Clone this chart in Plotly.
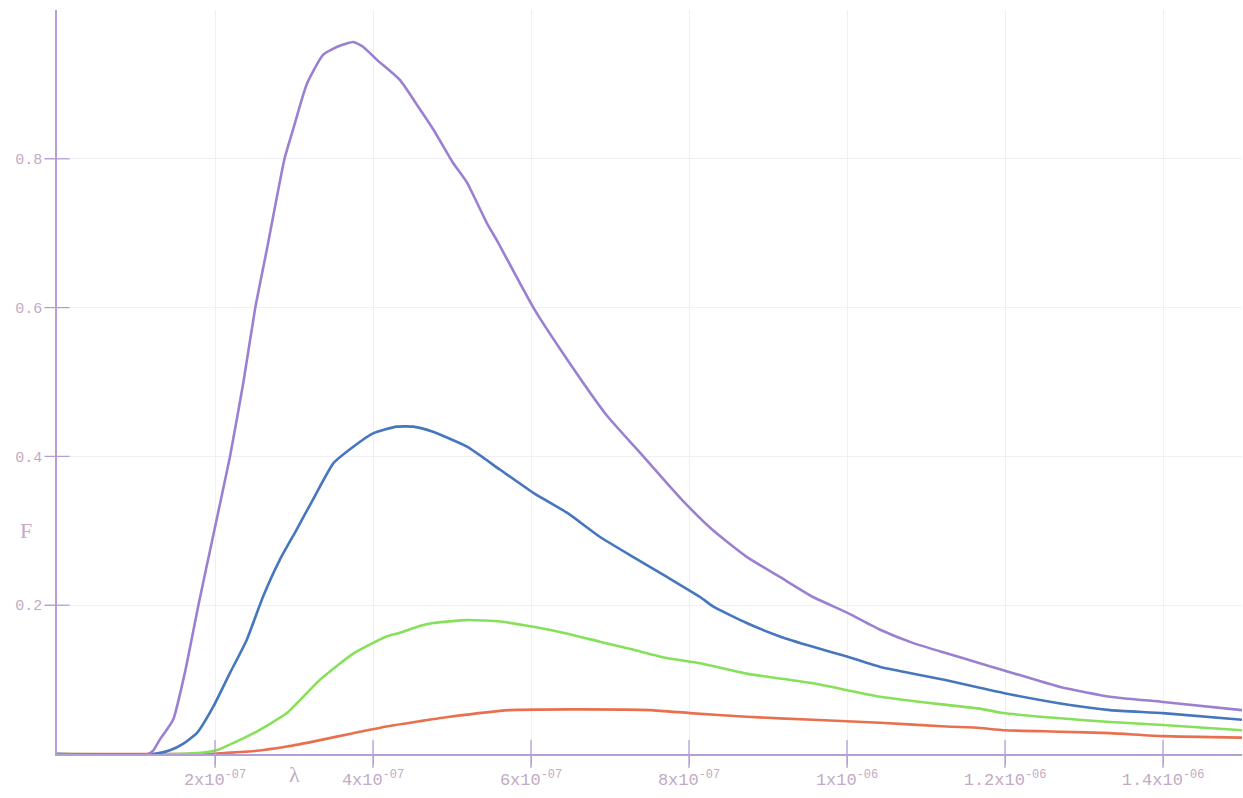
import plotly.graph_objects as go

# Wavelength samples (m) and normalised flux F for each curve
lam_purple = [0, 1.15e-7, 1.22e-7, 1.30e-7, 1.47e-7, 1.62e-7, 1.79e-7, 1.97e-7, 2.19e-7, 2.36e-7,
              2.51e-7, 2.66e-7, 2.88e-7, 2.99e-7, 3.16e-7, 3.37e-7, 3.58e-7, 3.75e-7, 3.87e-7,
              4.05e-7, 4.34e-7, 4.56e-7, 4.76e-7, 5.01e-7, 5.19e-7, 5.44e-7, 5.57e-7, 6.03e-7,
              6.46e-7, 6.96e-7, 7.38e-7, 7.89e-7, 8.30e-7, 8.73e-7, 9.15e-7, 9.57e-7, 1.00e-6,
              1.042e-6, 1.084e-6, 1.127e-6, 1.168e-6, 1.197e-6, 1.270e-6, 1.333e-6, 1.400e-6, 1.500e-6]
f_purple = [0, 0, 0.005, 0.019, 0.046, 0.11, 0.20, 0.29, 0.40, 0.50,
            0.60, 0.68, 0.80, 0.84, 0.90, 0.94, 0.952, 0.957, 0.951,
            0.933, 0.906, 0.872, 0.84, 0.795, 0.768, 0.714, 0.69, 0.60,
            0.53, 0.455, 0.405, 0.344, 0.301, 0.265, 0.238, 0.211, 0.19,
            0.167, 0.149, 0.135, 0.122, 0.113, 0.09, 0.077, 0.07, 0.059]

lam_blue = [0, 1.22e-7, 1.43e-7, 1.60e-7, 1.77e-7, 1.98e-7, 2.19e-7, 2.40e-7, 2.61e-7, 2.82e-7,
            3.03e-7, 3.24e-7, 3.50e-7, 3.75e-7, 4.00e-7, 4.30e-7, 4.51e-7, 4.76e-7, 5.19e-7,
            5.61e-7, 6.03e-7, 6.46e-7, 6.87e-7, 7.29e-7, 7.72e-7, 8.14e-7, 8.31e-7, 8.73e-7,
            9.15e-7, 9.57e-7, 1.00e-6, 1.042e-6, 1.084e-6, 1.126e-6, 1.168e-6, 1.198e-6,
            1.270e-6, 1.333e-6, 1.400e-6, 1.500e-6]
f_blue = [0, 0, 0.005, 0.014, 0.028, 0.064, 0.109, 0.153, 0.212, 0.261,
          0.301, 0.342, 0.391, 0.413, 0.431, 0.44, 0.44, 0.433, 0.413,
          0.382, 0.351, 0.324, 0.292, 0.265, 0.238, 0.211, 0.198, 0.176,
          0.158, 0.144, 0.131, 0.117, 0.108, 0.099, 0.089, 0.082,
          0.068, 0.059, 0.055, 0.046]

lam_green = [0, 1.50e-7, 1.85e-7, 2.02e-7, 2.49e-7, 2.91e-7, 3.33e-7, 3.75e-7, 4.17e-7, 4.34e-7,
             4.59e-7, 4.76e-7, 5.19e-7, 5.61e-7, 6.03e-7, 6.45e-7, 6.87e-7, 7.30e-7, 7.72e-7,
             8.14e-7, 8.73e-7, 9.57e-7, 1.042e-6, 1.126e-6, 1.168e-6, 1.198e-6, 1.270e-6,
             1.333e-6, 1.400e-6, 1.500e-6]
f_green = [0, 0, 0.002, 0.005, 0.028, 0.055, 0.10, 0.135, 0.158, 0.163,
           0.172, 0.176, 0.18, 0.178, 0.171, 0.162, 0.151, 0.14, 0.129,
           0.122, 0.108, 0.095, 0.077, 0.066, 0.061, 0.055, 0.048,
           0.043, 0.039, 0.032]

lam_red = [0, 1.90e-7, 2.06e-7, 2.50e-7, 2.91e-7, 3.30e-7, 3.75e-7, 4.17e-7, 4.59e-7, 4.97e-7,
           5.73e-7, 6.50e-7, 7.51e-7, 8.01e-7, 8.73e-7, 9.57e-7, 1.042e-6, 1.126e-6, 1.168e-6,
           1.198e-6, 1.270e-6, 1.333e-6, 1.400e-6, 1.500e-6]
f_red = [0, 0, 0.001, 0.004, 0.01, 0.018, 0.028, 0.037, 0.044, 0.05,
         0.059, 0.06, 0.059, 0.055, 0.05, 0.046, 0.042, 0.037, 0.035,
         0.032, 0.030, 0.028, 0.024, 0.022]

x_ticks = [2e-7, 4e-7, 6e-7, 8e-7, 1e-6, 1.2e-6, 1.4e-6]
x_tick_text = ["2x10<sup>-07</sup>", "4x10<sup>-07</sup>", "6x10<sup>-07</sup>", "8x10<sup>-07</sup>",
               "1x10<sup>-06</sup>", "1.2x10<sup>-06</sup>", "1.4x10<sup>-06</sup>"]
y_ticks = [0.2, 0.4, 0.6, 0.8]
y_tick_text = ["0.2", "0.4", "0.6", "0.8"]

AXIS = "#b49ed8"
LABEL = "#c2aac4"
GRID = "#f2eef6"

fig = go.Figure()

series = [
    (lam_red, f_red, "#e8704e"),
    (lam_green, f_green, "#86e05a"),
    (lam_blue, f_blue, "#4676bd"),
    (lam_purple, f_purple, "#9b80d2"),
]
for lam, f, col in series:
    fig.add_trace(go.Scatter(x=lam, y=f, mode="lines",
                             line=dict(color=col, width=2.6, shape="spline", smoothing=0.5),
                             hoverinfo="skip"))

# Cross-shaped tick marks straddling both axes
fig.add_trace(go.Scatter(x=[0] * len(y_ticks), y=y_ticks, mode="markers", cliponaxis=False,
                         marker=dict(symbol="line-ew", size=18, line=dict(color=AXIS, width=1.3)),
                         hoverinfo="skip"))
fig.add_trace(go.Scatter(x=x_ticks, y=[0] * len(x_ticks), mode="markers", cliponaxis=False,
                         marker=dict(symbol="line-ns", size=20, line=dict(color=AXIS, width=1.3)),
                         hoverinfo="skip"))

fig.update_layout(
    width=1243, height=798,
    margin=dict(l=57, r=1, t=10, b=44),
    paper_bgcolor="white", plot_bgcolor="white",
    showlegend=False,
    font=dict(family="Liberation Mono", size=17, color=LABEL),
    xaxis=dict(range=[0, 1.5e-6], tickvals=x_ticks, ticktext=x_tick_text,
               showgrid=True, gridcolor=GRID, gridwidth=1, zeroline=False,
               showline=True, linecolor=AXIS, linewidth=1.5,
               ticks="outside", ticklen=9, tickcolor=AXIS, tickwidth=1.3,
               tickfont=dict(family="Liberation Mono", size=17, color=LABEL)),
    yaxis=dict(range=[0, 1.0], tickvals=y_ticks, ticktext=y_tick_text,
               showgrid=True, gridcolor=GRID, gridwidth=1, zeroline=False,
               showline=True, linecolor=AXIS, linewidth=1.5,
               ticks="outside", ticklen=10, tickcolor=AXIS, tickwidth=1.3,
               tickfont=dict(family="Liberation Mono", size=15, color=LABEL)),
    annotations=[
        dict(text="λ", x=3.0e-7, xref="x", y=-0.028, yref="paper", showarrow=False,
             yanchor="middle", font=dict(family="Liberation Serif", size=22, color=LABEL)),
        dict(text="F", x=-0.026, xref="paper", y=0.30, yref="y", showarrow=False,
             xanchor="center", font=dict(family="Liberation Serif", size=22, color=LABEL)),
    ],
)

fig.write_html("out.html")
